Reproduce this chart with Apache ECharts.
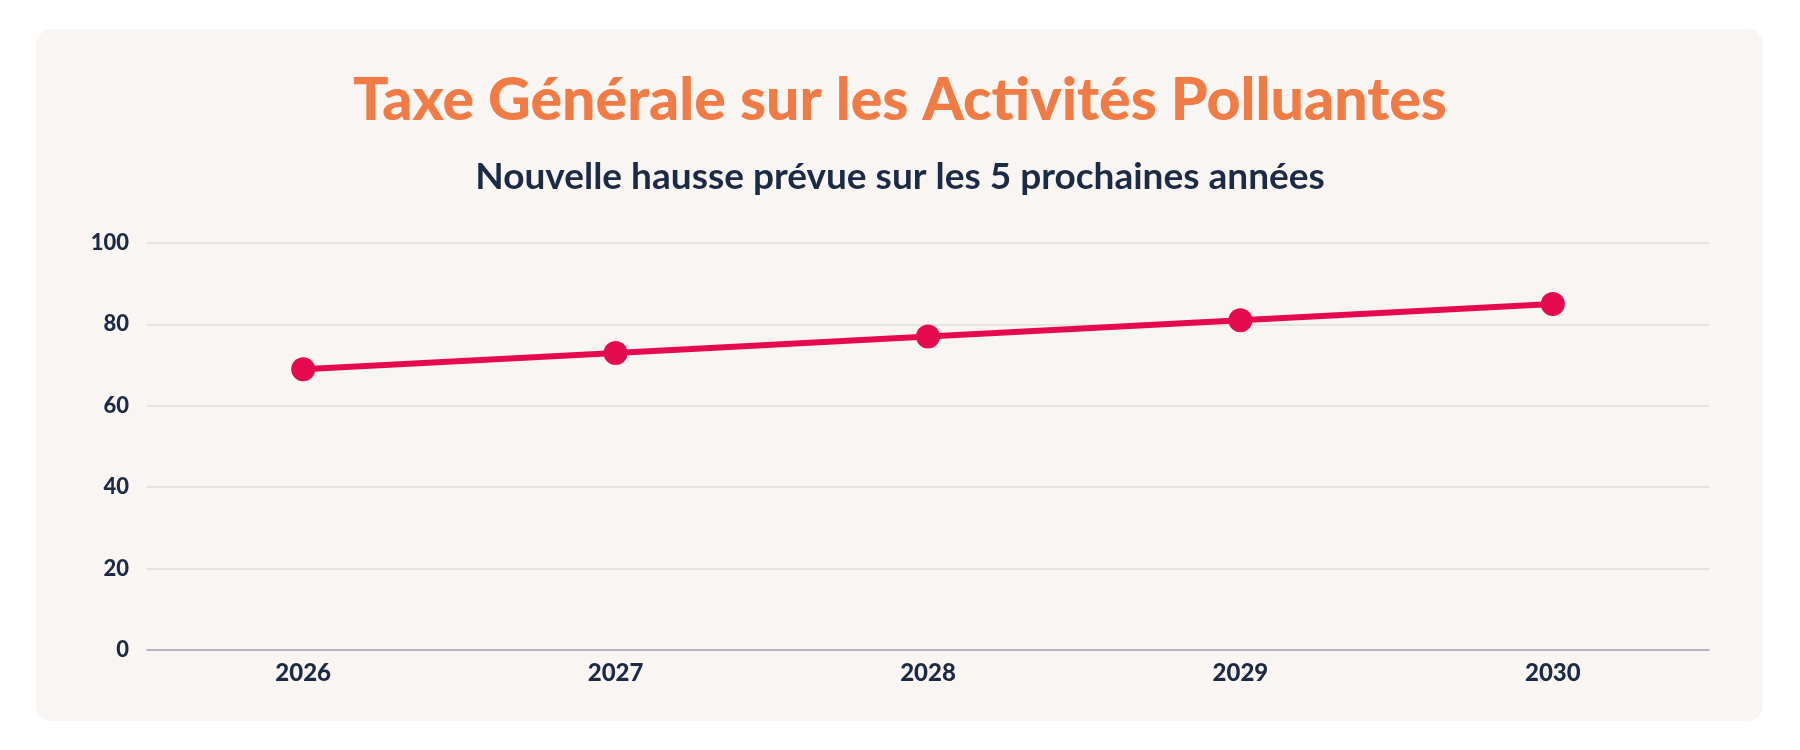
<!DOCTYPE html>
<html>
<head>
<meta charset="utf-8">
<script src="https://cdn.jsdelivr.net/npm/echarts@6/dist/echarts.min.js"></script>
<style>
html,body{margin:0;padding:0;background:#fff;}
#c{width:1800px;height:750px;}
</style>
</head>
<body>
<div id="c"></div>
<script>
const years = ['2026', '2027', '2028', '2029', '2030'];
const values = [69, 73, 77, 81, 85];
const yTicks = { min: 0, max: 100, interval: 20 };
const titleText = 'Taxe Générale sur les Activités Polluantes';
const subtitleText = 'Nouvelle hausse prévue sur les 5 prochaines années';

const chart = echarts.init(document.getElementById('c'));
chart.setOption({
  backgroundColor: '#ffffff',
  animation: false,
  graphic: [{
    type: 'rect', z: -10, silent: true,
    shape: { x: 36, y: 29, width: 1727, height: 692, r: 16 },
    style: { fill: '#F9F5F2' }
  }],
  title: [{
    text: titleText,
    left: 'center', top: 66,
    textStyle: { fontFamily: 'Lato', fontWeight: 900, fontSize: 59, color: '#F07B45' }
  }, {
    text: subtitleText,
    left: 'center', top: 154,
    textStyle: { fontFamily: 'Lato', fontWeight: 700, fontSize: 37, color: '#1C2B45' }
  }],
  grid: { left: 147, right: 91, top: 243, bottom: 100, containLabel: false },
  xAxis: {
    type: 'category', data: years, boundaryGap: true,
    axisLine: { show: true, lineStyle: { color: '#A3A7B6', width: 1.5 } },
    axisTick: { show: false },
    axisLabel: { margin: 11, fontFamily: 'Lato', fontWeight: 900, fontSize: 24, color: '#1C2B45' }
  },
  yAxis: {
    type: 'value', min: yTicks.min, max: yTicks.max, interval: yTicks.interval,
    axisLine: { show: false }, axisTick: { show: false },
    splitLine: { lineStyle: { color: '#DEDDE2', width: 1.5 } },
    axisLabel: { margin: 18, fontFamily: 'Lato', fontWeight: 900, fontSize: 22, color: '#1C2B45' }
  },
  series: [{
    type: 'line', data: values,
    symbol: 'circle', symbolSize: 24,
    lineStyle: { color: '#E50A4E', width: 6 },
    itemStyle: { color: '#E50A4E' }
  }]
});
</script>
</body>
</html>
